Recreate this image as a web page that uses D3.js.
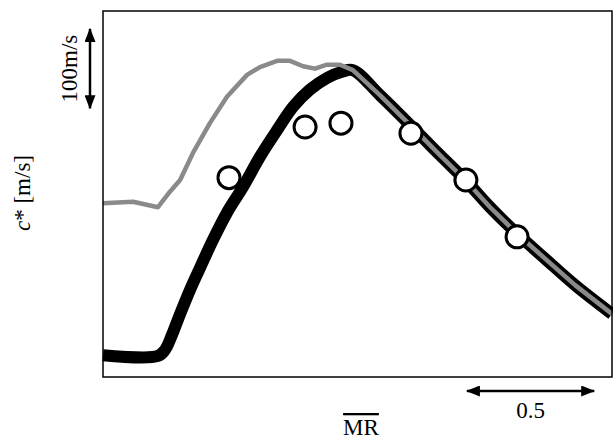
<!DOCTYPE html>
<html>
<head>
<meta charset="utf-8">
<script src="https://cdn.jsdelivr.net/npm/d3@7"></script>
<style>
body { margin: 0; background: #fff; }
</style>
</head>
<body>
<script>
// MR (x) and c* in m/s (y)
var blackMR = [0, 0.216, 0.244, 0.271, 0.303, 0.342, 0.381, 0.432, 0.487, 0.550, 0.617, 0.684, 0.747, 0.813, 0.880, 0.939, 0.982, 1.088, 1.218, 1.324, 1.426, 1.521, 1.627, 1.737, 1.855, 2.0]
var blackC = [28, 27, 35, 54, 81, 112, 140, 176, 211, 244, 283, 317, 347, 369, 384, 392, 394, 362, 320, 285, 252, 218, 184, 152, 118, 81]

var grayMR = [0, 0.118, 0.216, 0.263, 0.303, 0.354, 0.420, 0.487, 0.566, 0.617, 0.684, 0.735, 0.786, 0.833, 0.880, 0.931, 0.982, 1.088, 1.218, 1.324, 1.426, 1.521, 1.627, 1.737, 1.855, 2.0]
var grayC = [223, 225, 218, 238, 253, 288, 326, 360, 388, 398, 406, 406, 399, 396, 401, 401, 394, 362, 320, 285, 252, 218, 184, 152, 118, 81]

var dotMR = [0.495, 0.794, 0.935, 1.210, 1.426, 1.627]
var dotC = [256, 321, 326, 313, 253, 180]

var xLabel = "MR"
var yLabel = "[m/s]"
var yScaleLabel = "100m/s"
var xScaleLabel = "0.5"

var width = 613, height = 441
var margin = {left: 103, right: 1, top: 11, bottom: 64}
var serif = "'Liberation Serif', 'DejaVu Serif', serif"

var xscale = d3.scaleLinear().domain([0, 2]).range([margin.left, width - margin.right])
var yscale = d3.scaleLinear().domain([0, 470]).range([height - margin.bottom, margin.top])

var svg = d3.select("body").append("svg")
    .attr("width", width)
    .attr("height", height)

var defs = svg.append("defs")
defs.append("marker")
    .attr("id", "head")
    .attr("viewBox", "0 0 14 11")
    .attr("refX", 13).attr("refY", 5.5)
    .attr("markerWidth", 14).attr("markerHeight", 11)
    .attr("markerUnits", "userSpaceOnUse")
    .attr("orient", "auto-start-reverse")
    .append("path")
    .attr("d", "M0,0 L14,5.5 L0,11 z")
    .attr("fill", "#000")

var blackPts = blackMR.map(function(m, i) { return {x: m, y: blackC[i]} })
var grayPts = grayMR.map(function(m, i) { return {x: m, y: grayC[i]} })
var dots = dotMR.map(function(m, i) { return {x: m, y: dotC[i]} })

var line = d3.line()
    .x(function(p) { return xscale(p.x) })
    .y(function(p) { return yscale(p.y) })

var plot = svg.append("g")

plot.append("path")
    .datum(blackPts)
    .attr("d", line.curve(d3.curveCatmullRom.alpha(0.5)))
    .attr("fill", "none")
    .attr("stroke", "#000")
    .attr("stroke-width", 12)
    .attr("stroke-linejoin", "round")

plot.append("path")
    .datum(grayPts)
    .attr("d", line.curve(d3.curveLinear))
    .attr("fill", "none")
    .attr("stroke", "#8a8a8a")
    .attr("stroke-width", 4.5)
    .attr("stroke-linejoin", "round")

plot.selectAll("circle")
    .data(dots)
    .enter()
    .append("circle")
    .attr("cx", function(p) { return xscale(p.x) })
    .attr("cy", function(p) { return yscale(p.y) })
    .attr("r", 11)
    .attr("fill", "#fff")
    .attr("stroke", "#000")
    .attr("stroke-width", 3)

// frame
svg.append("rect")
    .attr("x", xscale(0))
    .attr("y", yscale(470))
    .attr("width", xscale(2) - xscale(0))
    .attr("height", yscale(0) - yscale(470))
    .attr("fill", "none")
    .attr("stroke", "#000")
    .attr("stroke-width", 1.5)

// y scale arrow: 100 m/s
var ay0 = yscale(447), ay1 = yscale(345)
svg.append("line")
    .attr("x1", 90).attr("x2", 90)
    .attr("y1", ay1).attr("y2", ay0)
    .attr("stroke", "#000").attr("stroke-width", 2.5)
    .attr("marker-start", "url(#head)")
    .attr("marker-end", "url(#head)")

svg.append("text")
    .attr("transform", "translate(77," + ((ay0 + ay1) / 2) + ") rotate(-90)")
    .attr("text-anchor", "middle")
    .attr("font-family", serif)
    .attr("font-size", 23)
    .attr("fill", "#000")
    .text(yScaleLabel)

// y label
var yl = svg.append("text")
    .attr("transform", "translate(30,193) rotate(-90)")
    .attr("text-anchor", "middle")
    .attr("font-family", serif)
    .attr("font-size", 23)
    .attr("fill", "#000")
yl.append("tspan").attr("font-style", "italic").attr("fill", "#000").text("c")
yl.append("tspan").attr("fill", "#000").text("* " + yLabel)

// x scale arrow: 0.5
var ax0 = xscale(1.43), ax1 = xscale(1.93)
svg.append("line")
    .attr("x1", ax0).attr("x2", ax1)
    .attr("y1", 391).attr("y2", 391)
    .attr("stroke", "#000").attr("stroke-width", 2.5)
    .attr("marker-start", "url(#head)")
    .attr("marker-end", "url(#head)")

svg.append("text")
    .attr("x", (ax0 + ax1) / 2)
    .attr("y", 418)
    .attr("text-anchor", "middle")
    .attr("font-family", serif)
    .attr("font-size", 23)
    .attr("fill", "#000")
    .text(xScaleLabel)

// x label with overline
svg.append("text")
    .attr("x", 361)
    .attr("y", 435)
    .attr("text-anchor", "middle")
    .attr("font-family", serif)
    .attr("font-size", 23)
    .attr("fill", "#000")
    .attr("text-decoration", "overline")
    .text(xLabel)
</script>
</body>
</html>
